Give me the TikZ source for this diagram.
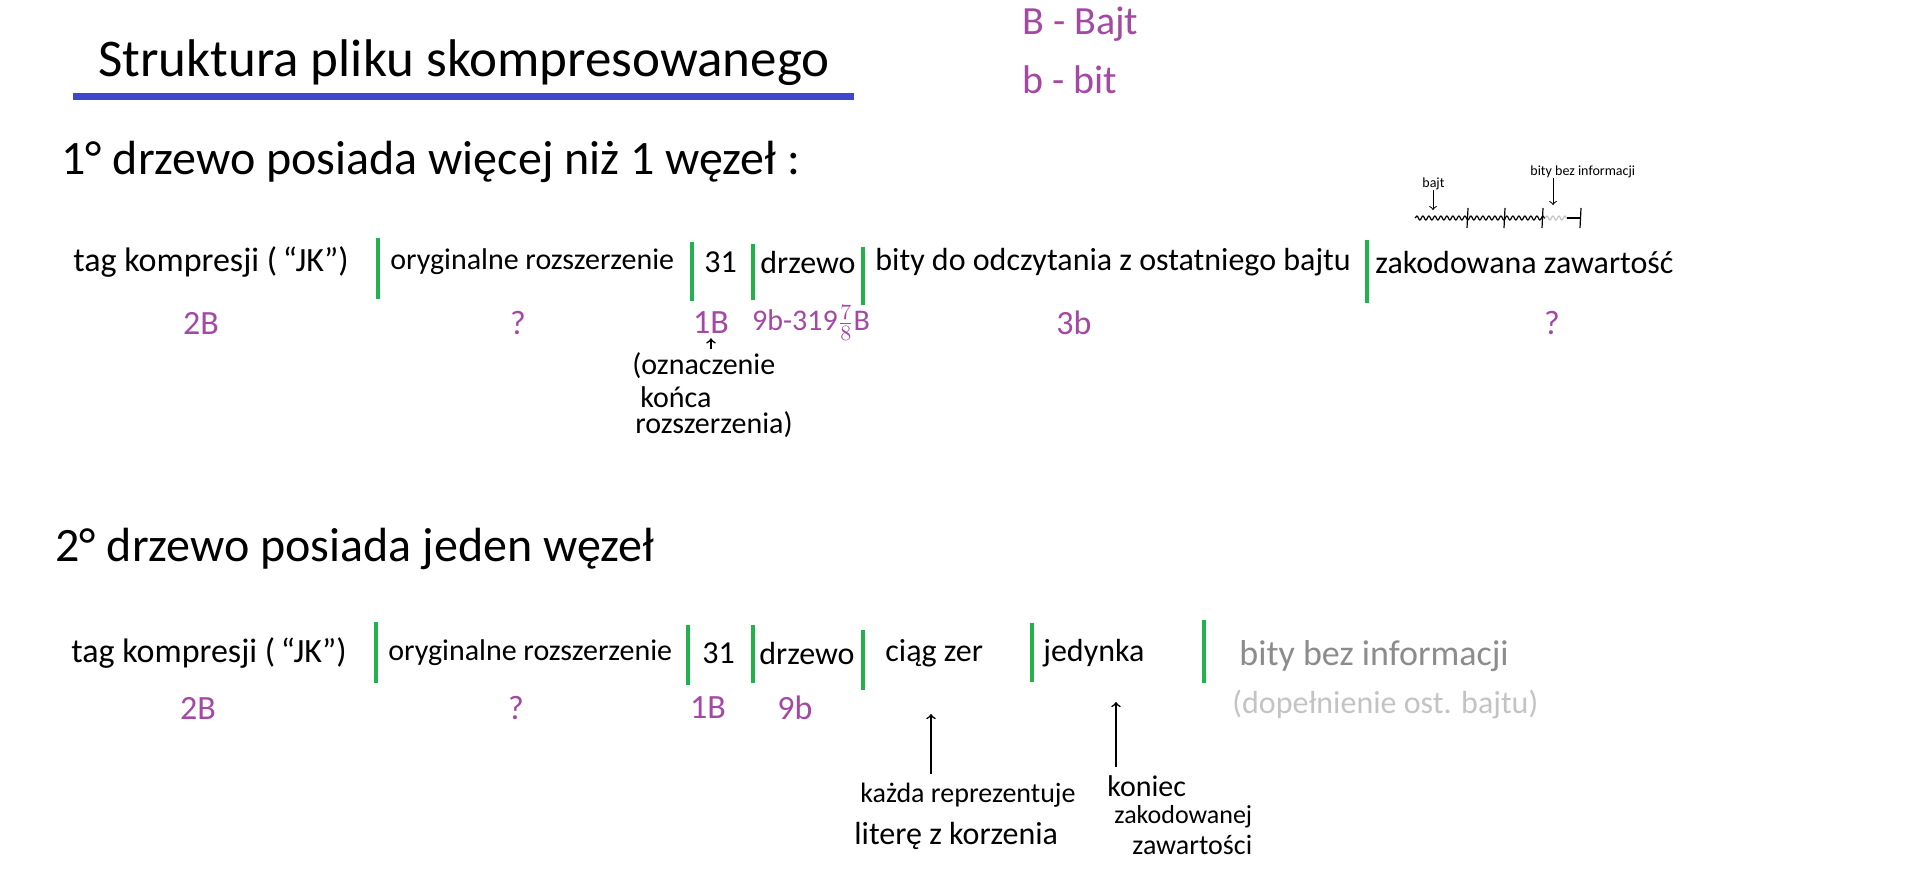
\documentclass[tikz,border=0pt]{standalone}
\usepackage{fontspec}
\setmainfont{Carlito}
\usetikzlibrary{decorations.pathmorphing}
\definecolor{fiolet}{RGB}{163,73,164}
\definecolor{zielony}{RGB}{34,177,76}
\definecolor{niebieski}{RGB}{63,72,204}
\definecolor{szary}{RGB}{140,140,140}
\definecolor{jasnyszary}{RGB}{195,195,195}
\begin{document}
\begin{tikzpicture}[x=0.5pt,y=-0.5pt]
	\useasboundingbox (0,0) rectangle (1913,885);
	\begin{scope}[every node/.style={anchor=west,inner sep=0pt,font=\fontsize{16}{18}\selectfont}]
	\node (T) at (98,63) [font=\fontsize{26.5}{30}\selectfont] {Struktura pliku skompresowanego};
	\node (N1) at (61,162) [font=\fontsize{24}{27}\selectfont] {1° drzewo posiada więcej niż 1 węzeł :};
	\node (N2) at (55,549) [font=\fontsize{24}{27}\selectfont] {2° drzewo posiada jeden węzeł};
	\node (A1) at (73,262) [font=\fontsize{17}{19}\selectfont] {tag kompresji (\,“JK”)};
	\node (B1) at (390,262) [font=\fontsize{15}{17}\selectfont] {oryginalne rozszerzenie};
	\node (C1) at (704,262) {31};
	\node (D1) at (760,262) {drzewo};
	\node (E1) at (875,262) {bity do odczytania z ostatniego bajtu};
	\node (F1) at (1375,262) {zakodowana zawartość};
	\node (A2) at (71,653) [font=\fontsize{17}{19}\selectfont] {tag kompresji (\,“JK”)};
	\node (B2) at (388,653) [font=\fontsize{15}{17}\selectfont] {oryginalne rozszerzenie};
	\node (C2) at (702,653) {31};
	\node (D2) at (759,653) {drzewo};
	\node (E2) at (885,653) {ciąg zer};
	\node (F2) at (1043,653) {jedynka};
	\node (G2) at (1239,656) [text=szary,font=\fontsize{18}{20}\selectfont] {bity bez informacji};
	\node (H2) at (1232,705) [text=jasnyszary] {(dopełnienie ost. bajtu)};
	\node (K1) at (632,366) [font=\fontsize{15}{17}\selectfont] {(oznaczenie};
	\node (K2) at (640,397) [font=\fontsize{15}{17}\selectfont] {końca};
	\node (K3) at (635,425) [font=\fontsize{15}{17}\selectfont] {rozszerzenia)};
	\node (R1) at (860,795) [font=\fontsize{14}{16}\selectfont] {każda reprezentuje};
	\node (R2) at (854,836) {literę z korzenia};
	\node (Q1) at (1107,786) [font=\fontsize{15}{17}\selectfont] {koniec};
	\node (Q2) at (1114,817) [font=\fontsize{13}{15}\selectfont] {zakodowanej};
	\node (Q3) at (1132,845) [font=\fontsize{14}{16}\selectfont] {zawartości};
	\node (bj) at (1422,184) [font=\fontsize{7}{8}\selectfont] {bajt};
	\node (bb) at (1530,172) [font=\fontsize{7}{8}\selectfont] {bity bez informacji};
	\end{scope}
	\begin{scope}[every node/.style={text=fiolet,inner sep=0pt,font=\fontsize{17}{19}\selectfont}]
	\node (L) at (1022,24) [anchor=west,font=\fontsize{20}{22}\selectfont] {B - Bajt};
	\node (M) at (1022,80) [anchor=west,font=\fontsize{20}{22}\selectfont] {b - bit};
	\node (S1) at (201,323) {2B};
	\node (S2) at (518,323) {?};
	\node (S3) at (711,323) {1B};
	\node (S4) at (811,323) [font=\fontsize{15}{17}\selectfont] {9b-319$\frac{7}{8}$B};
	\node (S5) at (1074,323) {3b};
	\node (S6) at (1552,323) {?};
	\node (P1) at (198,708) {2B};
	\node (P2) at (516,708) {?};
	\node (P3) at (708,708) {1B};
	\node (P4) at (795,708) {9b};
	\end{scope}
	\draw [niebieski, line width=3.5pt] (73,96) -- (854,96);
	\begin{scope}[zielony, line width=2.3pt]
	\draw (378,238) -- (378,299);
	\draw (692,242) -- (692,301);
	\draw (753,244) -- (753,300);
	\draw (863,247) -- (863,305);
	\draw (1367,240) -- (1367,303);
	\draw (376,622) -- (376,683);
	\draw (688,625) -- (688,685);
	\draw (753,625) -- (753,683);
	\draw (863,630) -- (863,690);
	\draw (1032,623) -- (1032,682);
	\draw (1204,620) -- (1204,683);
	\end{scope}
	\coordinate (W1) at (1433,210);
	\coordinate (W2) at (1553,205);
	\coordinate (U1) at (931,714);
	\coordinate (U2) at (1116,702);
	\draw [line width=0.6pt, decorate, decoration={snake,segment length=3pt,amplitude=1pt}] (1415,218) -- (1545,218);
	\draw [jasnyszary, line width=0.6pt, decorate, decoration={snake,segment length=3pt,amplitude=1pt}] (1545,218) -- (1567,218);
	\draw [line width=0.6pt] (1567,218) -- (1580,218);
	\foreach \x in {1468,1505,1543,1581}
		\draw [line width=0.6pt] (\x,208) -- (\x-1,228);
	\draw [->, line width=0.5pt] (bj.south -| W1) -- (W1);
	\draw [->, line width=0.5pt] (bb.south -| W2) -- (W2);
	\draw [->, line width=0.8pt, shorten >=2pt, shorten <=2pt] (K1.north -| S3.south) -- (S3.south);
	\draw [->, line width=0.8pt, shorten <=4pt] (R1.north -| U1) -- (U1);
	\draw [->, line width=0.8pt, shorten <=4pt] (Q1.north -| U2) -- (U2);
\end{tikzpicture}
\end{document}
